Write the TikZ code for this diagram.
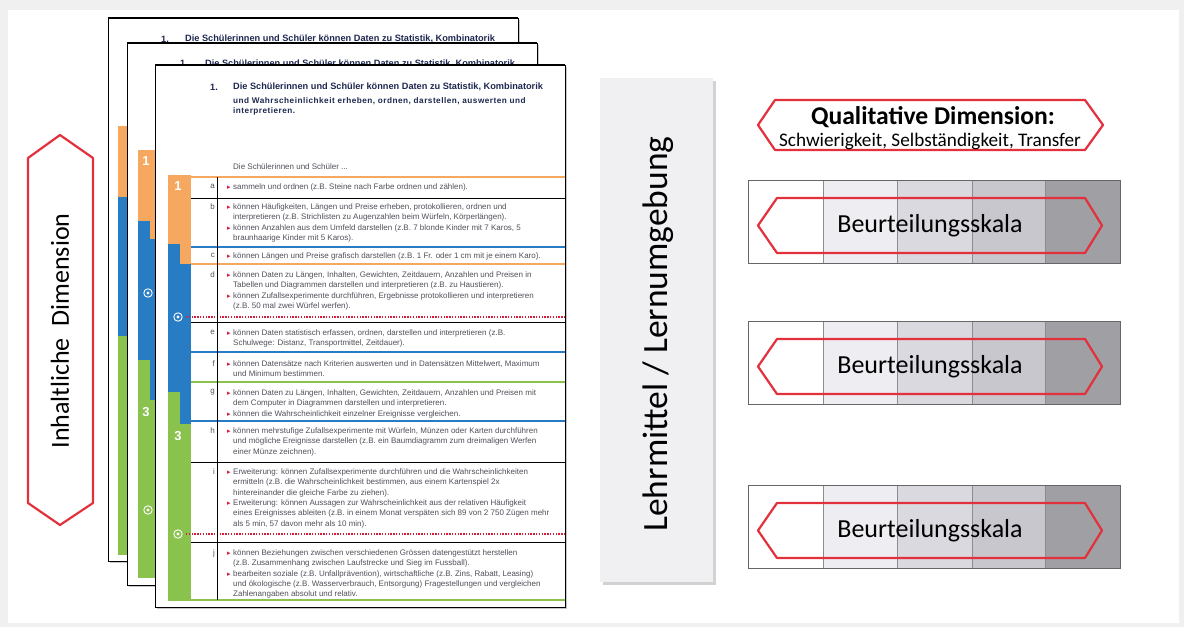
\documentclass[tikz,border=0pt]{standalone}
\usepackage{fontspec}
\setmainfont{Liberation Sans}
\newfontfamily\calibfont{Carlito}
\newfontfamily\symbfont{DejaVu Sans}

\definecolor{bandorange}{RGB}{246,168,96}
\definecolor{bandblau}{RGB}{40,124,196}
\definecolor{bandgruen}{RGB}{138,194,78}
\definecolor{hexrot}{RGB}{226,48,60}
\definecolor{punktrot}{RGB}{214,30,60}
\definecolor{titelblau}{RGB}{30,40,80}
\definecolor{textgrau}{RGB}{80,80,90}
\definecolor{panelgrau}{RGB}{240,240,243}
\definecolor{zelleA}{RGB}{255,255,255}
\definecolor{zelleB}{RGB}{238,238,242}
\definecolor{zelleC}{RGB}{218,217,223}
\definecolor{zelleD}{RGB}{200,199,206}
\definecolor{zelleE}{RGB}{160,160,164}

% roter Pfeil vor jedem Punkt
\newcommand{\tri}{\llap{{\symbfont\color{punktrot}\fontsize{7}{7}\selectfont ▸}\hspace{2.5pt}}}

\begin{document}
\begin{tikzpicture}[
        x=1pt, y=-1pt,
        docpage/.style={fill=white, draw=black, line width=0.7},
        docshadow/.style={fill=black!22},
        titeltext/.style={anchor=west, inner sep=0, text=titelblau, font=\fontsize{9.2}{10}\selectfont\bfseries},
        zeile/.style={anchor=north west, inner sep=0, align=left, text=textgrau, font=\fontsize{8}{10.3}\selectfont},
        buchst/.style={anchor=north east, inner sep=0, text=textgrau, font=\fontsize{8}{10.3}\selectfont},
        stufe/.style={inner sep=0, text=white, font=\fontsize{13}{13}\selectfont\bfseries},
        trenn/.style={draw=black, line width=0.8},
        farbstrich/.style={line width=1.8},
        punktlinie/.style={draw=punktrot, line width=1.3, dash pattern=on 1.3pt off 1.5pt},
        redhex/.style={draw=hexrot, line width=2.2, line join=round},
        skalatext/.style={inner sep=0, font=\calibfont\fontsize{26}{26}\selectfont}
    ]
      \useasboundingbox (0,0) rectangle (1184,627);
      % Hintergrundkarte
      \fill[gray!12] (0,0) rectangle (1184,627);
      \fill[white] (8,10) rectangle (1179,623);

      % Inhaltliche Dimension
      \draw[redhex] (60,135) -- (93,158) -- (93,503) -- (60,525) -- (28,503) -- (28,158) -- cycle;
      \node[rotate=90, inner sep=0, font=\calibfont\fontsize{26}{26}\selectfont] (inhalt) at (60,331) {Inhaltliche\hspace{0.45em}Dimension};

      % hinteres Blatt A
      \fill[docshadow] (109.5,19.5) rectangle (519.5,562.5);
      \filldraw[docpage] (108,18) rectangle (518,561);
      \draw[line width=1.8] (108,18) -- (518,18);
      \fill[bandorange] (118,126) rectangle (127,197);
      \fill[bandblau] (118,197) rectangle (127,336);
      \fill[bandgruen] (118,336) rectangle (127,555);
      \node[titeltext] (nrA) at (161,39) {1.};
      \node[titeltext] (titelA) at (185,39) {Die Schülerinnen und Schüler können Daten zu Statistik, Kombinatorik};

      % hinteres Blatt B
      \fill[docshadow] (128.5,44.5) rectangle (538.5,586.5);
      \filldraw[docpage] (127,43) rectangle (537,585);
      \draw[line width=1.8] (127,43) -- (537,43);
      \fill[bandorange] (138,150) rectangle (157,221);
      \fill[bandorange] (150,221) rectangle (157,239);
      \fill[bandblau] (138,221) rectangle (150,239);
      \fill[bandblau] (138,239) rectangle (157,360);
      \fill[bandblau] (150,360) rectangle (157,400);
      \fill[bandgruen] (138,360) rectangle (150,400);
      \fill[bandgruen] (138,400) rectangle (157,578);
      \node[stufe] (stufeB1) at (146,161) {1};
      \node[stufe] (stufeB3) at (146,412) {3};
      \node[titeltext] (nrB) at (180,63.5) {1.};
      \node[titeltext] (titelB) at (205,63.5) {Die Schülerinnen und Schüler können Daten zu Statistik, Kombinatorik};

      % vorderes Blatt C
      \fill[docshadow] (156.5,66.5) rectangle (566.5,608.5);
      \filldraw[docpage] (155,65) rectangle (565,607);
      \draw[line width=1.8] (155,65) -- (565,65);
      \fill[bandorange] (168,175) rectangle (191,244);
      \fill[bandorange] (180,244) rectangle (191,264);
      \fill[bandblau] (168,244) rectangle (180,264);
      \fill[bandblau] (168,264) rectangle (191,392);
      \fill[bandblau] (180,392) rectangle (191,424);
      \fill[bandgruen] (168,392) rectangle (180,424);
      \fill[bandgruen] (168,424) rectangle (191,601);
      \node[stufe] (stufeC1) at (178,186) {1};
      \node[stufe] (stufeC3) at (178,436) {3};
      \foreach \mx/\my in {148/293, 148/510, 178/317, 178/534} {
        \draw[white, line width=0.9] (\mx,\my) circle (4.2);
        \fill[white] (\mx,\my) circle (1.6);
      }
      \node[titeltext] (nrC) at (210,87) {1.};
      \node[titeltext] (titelC) at (233,87) {Die Schülerinnen und Schüler können Daten zu Statistik, Kombinatorik};
      \node[zeile, text=titelblau, font=\fontsize{8.2}{9.5}\selectfont\bfseries\addfontfeature{LetterSpace=6}] (untertitel) at (233,97.5)
        {und Wahrscheinlichkeit erheben, ordnen, darstellen, auswerten und\\interpretieren.};
      \node[zeile] (einleit) at (233,163.5) {Die Schülerinnen und Schüler ...};

      % Trennlinien
      \draw[farbstrich, bandorange] (191,177) -- (565,177);
      \draw[trenn] (191,198) -- (565,198);
      \draw[farbstrich, bandblau] (191,247) -- (565,247);
      \draw[farbstrich, bandorange] (191,264) -- (565,264);
      \draw[punktlinie] (186,317) -- (565,317);
      \draw[trenn] (191,322) -- (565,322);
      \draw[farbstrich, bandblau] (191,352) -- (565,352);
      \draw[farbstrich, bandgruen] (191,382) -- (565,382);
      \draw[farbstrich, bandblau] (191,421) -- (565,421);
      \draw[trenn] (191,462) -- (565,462);
      \draw[punktlinie] (186,534) -- (565,534);
      \draw[trenn] (191,542) -- (565,542);
      \draw[farbstrich, bandgruen] (191,600) -- (565,600);
      \draw[trenn] (217,177) -- (217,600);

      % Zeilen a bis j
      \node[buchst] (la) at (215,183.5) {a};
      \node[zeile] (za) at (233,183.5) {\tri sammeln und ordnen (z.B. Steine nach Farbe ordnen und zählen).};
      \node[buchst] (lb) at (215,203.5) {b};
      \node[zeile] (zb) at (233,203.5) {\tri können Häufigkeiten, Längen und Preise erheben, protokollieren, ordnen und\\
        interpretieren (z.B. Strichlisten zu Augenzahlen beim Würfeln, Körperlängen).\\
        \tri können Anzahlen aus dem Umfeld darstellen (z.B. 7 blonde Kinder mit 7 Karos, 5\\
        braunhaarige Kinder mit 5 Karos).};
      \node[buchst] (lc) at (215,252.5) {c};
      \node[zeile] (zc) at (233,252.5) {\tri können Längen und Preise grafisch darstellen (z.B. 1 Fr. oder 1 cm mit je einem Karo).};
      \node[buchst] (ld) at (215,271.5) {d};
      \node[zeile] (zd) at (233,271.5) {\tri können Daten zu Längen, Inhalten, Gewichten, Zeitdauern, Anzahlen und Preisen in\\
        Tabellen und Diagrammen darstellen und interpretieren (z.B. zu Haustieren).\\
        \tri können Zufallsexperimente durchführen, Ergebnisse protokollieren und interpretieren\\
        (z.B. 50 mal zwei Würfel werfen).};
      \node[buchst] (le) at (215,329.5) {e};
      \node[zeile] (ze) at (233,329.5) {\tri können Daten statistisch erfassen, ordnen, darstellen und interpretieren (z.B.\\
        Schulwege: Distanz, Transportmittel, Zeitdauer).};
      \node[buchst] (lf) at (215,360.5) {f};
      \node[zeile] (zf) at (233,360.5) {\tri können Datensätze nach Kriterien auswerten und in Datensätzen Mittelwert, Maximum\\
        und Minimum bestimmen.};
      \node[buchst] (lg) at (215,389.5) {g};
      \node[zeile] (zg) at (233,389.5) {\tri können Daten zu Längen, Inhalten, Gewichten, Zeitdauern, Anzahlen und Preisen mit\\
        dem Computer in Diagrammen darstellen und interpretieren.\\
        \tri können die Wahrscheinlichkeit einzelner Ereignisse vergleichen.};
      \node[buchst] (lh) at (215,427.5) {h};
      \node[zeile] (zh) at (233,427.5) {\tri können mehrstufige Zufallsexperimente mit Würfeln, Münzen oder Karten durchführen\\
        und mögliche Ereignisse darstellen (z.B. ein Baumdiagramm zum dreimaligen Werfen\\
        einer Münze zeichnen).};
      \node[buchst] (li) at (215,468.5) {i};
      \node[zeile] (zi) at (233,468.5) {\tri Erweiterung: können Zufallsexperimente durchführen und die Wahrscheinlichkeiten\\
        ermitteln (z.B. die Wahrscheinlichkeit bestimmen, aus einem Kartenspiel 2x\\
        hintereinander die gleiche Farbe zu ziehen).\\
        \tri Erweiterung: können Aussagen zur Wahrscheinlichkeit aus der relativen Häufigkeit\\
        eines Ereignisses ableiten (z.B. in einem Monat verspäten sich 89 von 2 750 Zügen mehr\\
        als 5 min, 57 davon mehr als 10 min).};
      \node[buchst] (lj) at (215,549.5) {j};
      \node[zeile] (zj) at (233,549.5) {\tri können Beziehungen zwischen verschiedenen Grössen datengestützt herstellen\\
        (z.B. Zusammenhang zwischen Laufstrecke und Sieg im Fussball).\\
        \tri bearbeiten soziale (z.B. Unfallprävention), wirtschaftliche (z.B. Zins, Rabatt, Leasing)\\
        und ökologische (z.B. Wasserverbrauch, Entsorgung) Fragestellungen und vergleichen\\
        Zahlenangaben absolut und relativ.};

      % Lehrmittel / Lernumgebung
      \fill[gray!35] (602.5,80.5) rectangle (715.5,584.5);
      \fill[panelgrau] (600,78) rectangle (713,582);
      \node[rotate=90, inner sep=0, font=\calibfont\fontsize{35.5}{35.5}\selectfont] (lehrmittel) at (658,334) {Lehrmittel / Lernumgebung};

      % Qualitative Dimension
      \draw[redhex] (758,125) -- (775,100) -- (1085,100) -- (1103,125) -- (1085,150) -- (775,150) -- cycle;
      \node[inner sep=0, font=\calibfont\fontsize{25.6}{25.6}\selectfont\bfseries] (qualtitel) at (933,117) {Qualitative Dimension:};
      \node[inner sep=0, font=\calibfont\fontsize{19.2}{19.2}\selectfont] (qualkrit) at (930,141) {Schwierigkeit, Selbständigkeit, Transfer};

      % drei Beurteilungsskalen
      \foreach \t/\n in {180/1, 321/2, 485/3} {
        \foreach \xa/\xb/\c in {748/823/zelleA, 823/897/zelleB, 897/972/zelleC, 972/1045/zelleD, 1045/1120/zelleE}
          \filldraw[fill=\c, draw=black!45, line width=0.6] (\xa,\t) rectangle (\xb,\t+83);
        \draw[black!60, line width=0.7] (748,\t) rectangle (1120,\t+83);
        \draw[redhex] (758,\t+45.5) -- (777,\t+18) -- (1085,\t+18) -- (1102,\t+45.5) -- (1085,\t+73) -- (777,\t+73) -- cycle;
        \node[skalatext] (skala\n) at (930,\t+46) {Beurteilungsskala};
      }
    \end{tikzpicture}
\end{document}
